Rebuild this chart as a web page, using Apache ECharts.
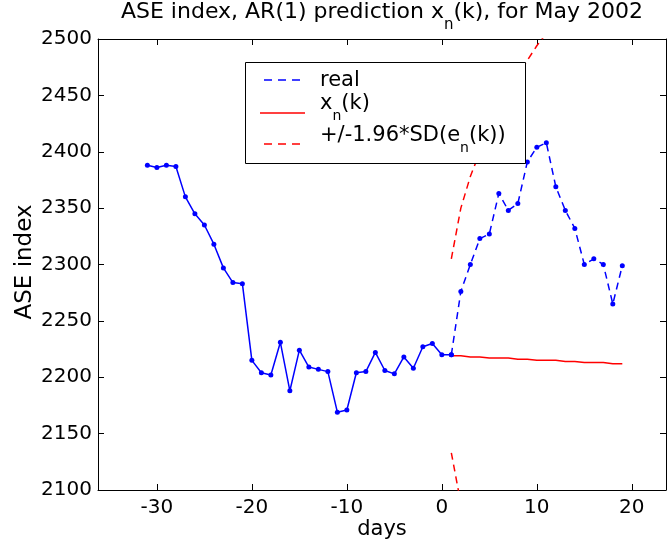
<!DOCTYPE html>
<html><head><meta charset="utf-8">
<script src="https://cdn.jsdelivr.net/npm/echarts@6/dist/echarts.min.js"></script>
<style>html,body{margin:0;padding:0;background:#fff}#c{width:669px;height:548px}</style>
</head><body><div id="c"></div>
<script>
// ---- data ----
const pastDays = [-31,-30,-29,-28,-27,-26,-25,-24,-23,-22,-21,-20,-19,-18,-17,-16,-15,-14,-13,-12,-11,-10,-9,-8,-7,-6,-5,-4,-3,-2,-1,0,1];
const pastValues = [2388,2386,2388,2387,2360,2345,2335,2318,2297,2284,2283,2215,2204,2202,2231,2188,2224,2209,2207,2205,2169,2171,2204,2205,2222,2206,2203,2218,2208,2227,2230,2220,2220];
const futureDays = [1,2,3,4,5,6,7,8,9,10,11,12,13,14,15,16,17,18,19];
const futureValues = [2220,2276,2300,2323,2327,2363,2348,2354,2391,2404,2408,2369,2348,2332,2300,2305,2300,2265,2299];
const predValues = [2219,2219,2218,2218,2217,2217,2217,2216,2216,2215,2215,2215,2214,2214,2213,2213,2213,2212,2212];
const upperValues = [2305,2350,2378,2400,2419,2436,2452,2467,2481,2494,2505,2517,2529,2540,2551,2561,2571,2581,2590];
const lowerValues = [2133,2088,2058,2036,2015,1998,1982,1965,1951,1936,1923,1911,1899,1887,1875,1864,1853,1843,1832];
const xTicks = [-30,-20,-10,0,10,20];
const yMin = 2100, yMax = 2500, yStep = 50;
const xMin = -36.2, xMax = 23.6;

const FF = 'DejaVu Sans';
const BLUE = '#0000ff', RED = '#ff0000';
const pairs = (xs, ys) => xs.map((x, i) => [x, ys[i]]);

const chart = echarts.init(document.getElementById('c'), null, {renderer: 'canvas'});

const axisCommon = {
  axisLine: {show: true, onZero: false, lineStyle: {color: '#000', width: 1}},
  splitLine: {show: false},
};
const rich = {
  m: {fontFamily: FF, fontSize: 21, color: '#000', lineHeight: 25, verticalAlign: 'top'},
  s: {fontFamily: FF, fontSize: 14, color: '#000', lineHeight: 14, verticalAlign: 'bottom'},
  z: {fontFamily: FF, fontSize: 2, lineHeight: 30, width: 0}
};
const richT = {
  m: {fontFamily: FF, fontSize: 22, color: '#000', lineHeight: 26, verticalAlign: 'top'},
  s: {fontFamily: FF, fontSize: 15, color: '#000', lineHeight: 15, verticalAlign: 'bottom'},
  z: {fontFamily: FF, fontSize: 2, lineHeight: 32, width: 0}
};

const option = {
  animation: false,
  backgroundColor: '#fff',
  grid: {left: 98, right: 3, top: 39, bottom: 58, containLabel: false},
  xAxis: [
    Object.assign({}, axisCommon, {
      type: 'value', position: 'bottom', min: xMin, max: xMax,
      axisTick: {show: true, inside: true, length: 6, customValues: xTicks, lineStyle: {color: '#000'}},
      axisLabel: {show: true, customValues: xTicks, margin: 8, fontFamily: FF, fontSize: 20, color: '#000',
                  formatter: v => String(v)}
    }),
    Object.assign({}, axisCommon, {
      type: 'value', position: 'top', min: xMin, max: xMax,
      axisTick: {show: true, inside: true, length: 6, customValues: xTicks, lineStyle: {color: '#000'}},
      axisLabel: {show: false}
    })
  ],
  yAxis: [
    Object.assign({}, axisCommon, {
      type: 'value', position: 'left', min: yMin, max: yMax, interval: yStep,
      axisTick: {show: true, inside: true, length: 6, lineStyle: {color: '#000'}},
      axisLabel: {show: true, margin: 6, fontFamily: FF, fontSize: 20, color: '#000',
                  formatter: v => String(v)}
    }),
    Object.assign({}, axisCommon, {
      type: 'value', position: 'right', min: yMin, max: yMax, interval: yStep,
      axisTick: {show: true, inside: true, length: 6, lineStyle: {color: '#000'}},
      axisLabel: {show: false}
    })
  ],
  series: [
    {type: 'line', name: 'real', data: pairs(futureDays, futureValues), clip: true,
     lineStyle: {color: BLUE, width: 1.5, type: [7, 5]}, itemStyle: {color: BLUE},
     symbol: 'circle', symbolSize: 5, showSymbol: true, z: 3},
    {type: 'line', name: 'xn', data: pairs(futureDays, predValues), clip: true,
     lineStyle: {color: RED, width: 1.5}, symbol: 'none', z: 2},
    {type: 'line', name: 'upper', data: pairs(futureDays, upperValues), clip: true,
     lineStyle: {color: RED, width: 1.5, type: [7, 5]}, symbol: 'none', z: 2},
    {type: 'line', name: 'lower', data: pairs(futureDays, lowerValues), clip: true,
     lineStyle: {color: RED, width: 1.5, type: [7, 5]}, symbol: 'none', z: 2},
    {type: 'line', name: 'past', data: pairs(pastDays, pastValues), clip: true,
     lineStyle: {color: BLUE, width: 1.5}, itemStyle: {color: BLUE},
     symbol: 'circle', symbolSize: 5, showSymbol: true, z: 3}
  ],
  graphic: [
    {type: 'text', x: 382, y: 1, z: 10,
     style: {text: '{m|ASE index, AR(1) prediction x}{s|n}{m|(k), for May 2002}{z| }', rich: richT, align: 'center'}},
    {type: 'text', x: 382, y: 530, z: 10,
     style: {text: 'days', fontFamily: FF, fontSize: 21, fill: '#000', align: 'center', verticalAlign: 'middle'}},
    {type: 'text', x: 25, y: 262, rotation: Math.PI / 2, z: 10,
     style: {text: 'ASE index', fontFamily: FF, fontSize: 23, fill: '#000', align: 'center', verticalAlign: 'middle'}},
    // legend
    {type: 'rect', z: 20, shape: {x: 245.5, y: 62.5, width: 280, height: 101},
     style: {fill: '#fff', stroke: '#000', lineWidth: 1}},
    {type: 'line', z: 21, shape: {x1: 264, y1: 80, x2: 305, y2: 80},
     style: {stroke: BLUE, lineWidth: 1.5, lineDash: [8, 6]}},
    {type: 'line', z: 21, shape: {x1: 260, y1: 113, x2: 305, y2: 113},
     style: {stroke: RED, lineWidth: 1.5}},
    {type: 'line', z: 21, shape: {x1: 264, y1: 144, x2: 305, y2: 144},
     style: {stroke: RED, lineWidth: 1.5, lineDash: [8, 6]}},
    {type: 'text', z: 21, x: 320, y: 70,
     style: {text: '{m|real}', rich: rich}},
    {type: 'text', z: 21, x: 320, y: 93,
     style: {text: '{m|x}{s|n}{m|(k)}{z| }', rich: rich}},
    {type: 'text', z: 21, x: 320, y: 125,
     style: {text: '{m|+/-1.96*SD(e}{s|n}{m|(k))}{z| }', rich: rich}}
  ]
};
chart.setOption(option);
</script>
</body></html>
